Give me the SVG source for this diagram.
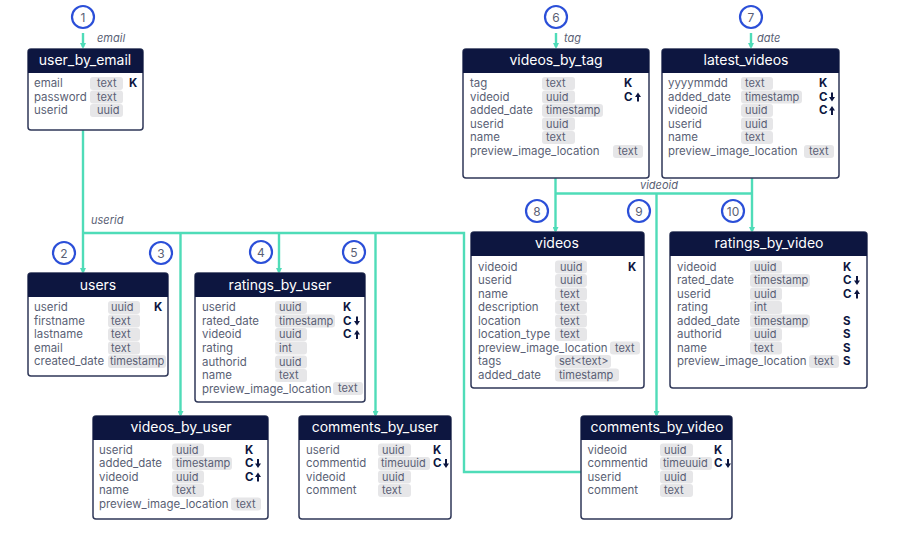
<svg xmlns="http://www.w3.org/2000/svg" width="900" height="534" viewBox="0 0 900 534">
<style>
text{font-family:"Inter","Noto Sans","Liberation Sans",sans-serif}
.box{fill:#fff;stroke:#2f3758;stroke-width:1.5}
.hd{fill:#0d1640}
.ti{fill:#fff;font-size:14px;text-anchor:middle}
.f{fill:#5a5f75;font-size:11.45px;transform:translateY(-0.5px)}
.t{fill:#5a5f75;font-size:11px;transform:translateY(-0.5px)}
.c{fill:#e6e6e8}
.k{fill:#0d1640;font-size:11.5px;font-weight:700;transform:translateY(-0.5px)}
.l{fill:#5a5f75;font-size:11px;font-style:italic}
.n{fill:#fff;stroke:#2b4fd8;stroke-width:2.2}
.nt{fill:#5a5f75;font-size:12px;text-anchor:middle}
.w{fill:none;stroke:#4fdcb8;stroke-width:2.4}
.a{fill:#0d1640}
</style>
<defs>
<marker id="ah" markerWidth="6" markerHeight="6" refX="4" refY="3" orient="auto" markerUnits="userSpaceOnUse"><path d="M0 0L6 3L0 6Z" fill="#4fdcb8"/></marker>
<path id="d" class="a" d="M-1-4.500H1V0H3L0 4.500L-3 0H-1Z"/>
<path id="u" class="a" d="M-1 4.500H1V0H3L0-4.500L-3 0H-1Z"/>
</defs>
<g id="connectors">
<path class="w" marker-end="url(#ah)" d="M83 33V47"/>
<path class="w" marker-end="url(#ah)" d="M556 33V47"/>
<path class="w" marker-end="url(#ah)" d="M751 33V47"/>
<path class="w" marker-end="url(#ah)" d="M83 130V272"/>
<path class="w" d="M83 233H464V472H581"/>
<path class="w" marker-end="url(#ah)" d="M180.500 233V415"/>
<path class="w" marker-end="url(#ah)" d="M279 233V272"/>
<path class="w" marker-end="url(#ah)" d="M375.500 233V415"/>
<path class="w" marker-end="url(#ah)" d="M555.500 178V231"/>
<path class="w" marker-end="url(#ah)" d="M752 178V231"/>
<path class="w" d="M555.500 193.500H752"/>
<path class="w" marker-end="url(#ah)" d="M656.500 193.500V415"/>
<text class="l" x="97" y="42">email</text>
<text class="l" x="91" y="224">userid</text>
<text class="l" x="564" y="42">tag</text>
<text class="l" x="757" y="42">date</text>
<text class="l" x="640" y="189">videoid</text>
</g>
<g id="n1"><circle class="n" cx="83" cy="17" r="11"/><text class="nt" x="83" y="21.500">1</text></g>
<g id="n2"><circle class="n" cx="64" cy="253" r="11"/><text class="nt" x="64" y="257.500">2</text></g>
<g id="n3"><circle class="n" cx="161" cy="253" r="11"/><text class="nt" x="161" y="257.500">3</text></g>
<g id="n4"><circle class="n" cx="261" cy="252" r="11"/><text class="nt" x="261" y="256.500">4</text></g>
<g id="n5"><circle class="n" cx="354" cy="252" r="11"/><text class="nt" x="354" y="256.500">5</text></g>
<g id="n6"><circle class="n" cx="556" cy="17" r="11"/><text class="nt" x="556" y="21.500">6</text></g>
<g id="n7"><circle class="n" cx="751" cy="17" r="11"/><text class="nt" x="751" y="21.500">7</text></g>
<g id="n8"><circle class="n" cx="537" cy="211" r="11"/><text class="nt" x="537" y="215.500">8</text></g>
<g id="n9"><circle class="n" cx="639" cy="211" r="11"/><text class="nt" x="639" y="215.500">9</text></g>
<g id="n10"><circle class="n" cx="733" cy="211" r="11"/><text class="nt" x="733" y="215.500">10</text></g>

<g id="user_by_email">
<rect class="box" x="28" y="49" width="115" height="81" rx="3"/><path class="hd" d="M28 73V52a3 3 0 0 1 3-3H140a3 3 0 0 1 3 3V73Z"/>
<text class="ti" x="85" y="65">user_by_email</text>
<rect class="c" x="90" y="77" width="33" height="13" rx="3"/><rect class="c" x="90" y="90.500" width="33" height="13" rx="3"/><rect class="c" x="90" y="104" width="33" height="13" rx="3"/>
<text class="f" x="34" y="87.500">email</text><text class="t" x="97" y="87.500">text</text><text class="k" x="129" y="87.500">K</text>
<text class="f" x="34" y="101">password</text><text class="t" x="97" y="101">text</text>
<text class="f" x="34" y="114.500">userid</text><text class="t" x="97" y="114.500">uuid</text>
</g>

<g id="videos_by_tag">
<rect class="box" x="463" y="49" width="186" height="129" rx="3"/><path class="hd" d="M463 73V52a3 3 0 0 1 3-3H646a3 3 0 0 1 3 3V73Z"/>
<text class="ti" x="556" y="65">videos_by_tag</text>
<rect class="c" x="542" y="77" width="33" height="13" rx="3"/><rect class="c" x="542" y="90.500" width="33" height="13" rx="3"/><rect class="c" x="542" y="104" width="61" height="13" rx="3"/><rect class="c" x="542" y="117.500" width="33" height="13" rx="3"/><rect class="c" x="542" y="131" width="33" height="13" rx="3"/><rect class="c" x="613" y="145" width="30" height="13" rx="3"/>
<text class="f" x="470" y="87.500">tag</text><text class="t" x="546" y="87.500">text</text><text class="k" x="624" y="87.500">K</text>
<text class="f" x="470" y="101">videoid</text><text class="t" x="546" y="101">uuid</text><text class="k" x="624" y="101">C</text><use href="#u" x="638" y="97"/>
<text class="f" x="470" y="114.500">added_date</text><text class="t" x="546" y="114.500">timestamp</text>
<text class="f" x="470" y="128">userid</text><text class="t" x="546" y="128">uuid</text>
<text class="f" x="470" y="141.500">name</text><text class="t" x="546" y="141.500">text</text>
<text class="f" x="470" y="155">preview_image_location</text><text class="t" x="618" y="155.500">text</text>
</g>

<g id="latest_videos">
<rect class="box" x="662" y="49" width="177" height="129" rx="3"/><path class="hd" d="M662 73V52a3 3 0 0 1 3-3H836a3 3 0 0 1 3 3V73Z"/>
<text class="ti" x="746" y="65">latest_videos</text>
<rect class="c" x="741" y="77" width="32" height="13" rx="3"/><rect class="c" x="741" y="90.500" width="61" height="13" rx="3"/><rect class="c" x="741" y="104" width="32" height="13" rx="3"/><rect class="c" x="741" y="117.500" width="32" height="13" rx="3"/><rect class="c" x="741" y="131" width="32" height="13" rx="3"/><rect class="c" x="804" y="145" width="30" height="13" rx="3"/>
<text class="f" x="668" y="87.500">yyyymmdd</text><text class="t" x="745" y="87.500">text</text><text class="k" x="819" y="87.500">K</text>
<text class="f" x="668" y="101">added_date</text><text class="t" x="745" y="101">timestamp</text><text class="k" x="819" y="101">C</text><use href="#d" x="832" y="97"/>
<text class="f" x="668" y="114.500">videoid</text><text class="t" x="745" y="114.500">uuid</text><text class="k" x="819" y="114.500">C</text><use href="#u" x="832" y="110.500"/>
<text class="f" x="668" y="128">userid</text><text class="t" x="745" y="128">uuid</text>
<text class="f" x="668" y="141.500">name</text><text class="t" x="745" y="141.500">text</text>
<text class="f" x="668" y="155">preview_image_location</text><text class="t" x="809" y="155.500">text</text>
</g>

<g id="users">
<rect class="box" x="28" y="273" width="140" height="103" rx="3"/><path class="hd" d="M28 297V276a3 3 0 0 1 3-3H165a3 3 0 0 1 3 3V297Z"/>
<text class="ti" x="98" y="290">users</text>
<rect class="c" x="108" y="301" width="32" height="13" rx="3"/><rect class="c" x="108" y="314.500" width="32" height="13" rx="3"/><rect class="c" x="108" y="328" width="32" height="13" rx="3"/><rect class="c" x="108" y="341.500" width="32" height="13" rx="3"/><rect class="c" x="108" y="355" width="58" height="13" rx="3"/>
<text class="f" x="34" y="311.500">userid</text><text class="t" x="111" y="311.500">uuid</text><text class="k" x="154" y="311.500">K</text>
<text class="f" x="34" y="325">firstname</text><text class="t" x="111" y="325">text</text>
<text class="f" x="34" y="338.500">lastname</text><text class="t" x="111" y="338.500">text</text>
<text class="f" x="34" y="352">email</text><text class="t" x="111" y="352">text</text>
<text class="f" x="34" y="365.500">created_date</text><text class="t" x="110" y="365.500">timestamp</text>
</g>

<g id="ratings_by_user">
<rect class="box" x="195" y="273" width="170" height="129" rx="3"/><path class="hd" d="M195 297V276a3 3 0 0 1 3-3H362a3 3 0 0 1 3 3V297Z"/>
<text class="ti" x="280" y="290">ratings_by_user</text>
<rect class="c" x="275" y="301" width="32" height="13" rx="3"/><rect class="c" x="275" y="314.500" width="60" height="13" rx="3"/><rect class="c" x="275" y="328" width="32" height="13" rx="3"/><rect class="c" x="275" y="341.500" width="32" height="13" rx="3"/><rect class="c" x="275" y="355.500" width="32" height="13" rx="3"/><rect class="c" x="275" y="369" width="32" height="13" rx="3"/><rect class="c" x="333" y="382" width="30" height="13" rx="3"/>
<text class="f" x="202" y="311.500">userid</text><text class="t" x="279" y="311.500">uuid</text><text class="k" x="343" y="311.500">K</text>
<text class="f" x="202" y="325">rated_date</text><text class="t" x="279" y="325">timestamp</text><text class="k" x="343" y="325">C</text><use href="#d" x="357" y="321"/>
<text class="f" x="202" y="338.500">videoid</text><text class="t" x="279" y="338.500">uuid</text><text class="k" x="343" y="338.500">C</text><use href="#u" x="357" y="334.500"/>
<text class="f" x="202" y="352">rating</text><text class="t" x="279" y="352">int</text>
<text class="f" x="202" y="366">authorid</text><text class="t" x="279" y="366">uuid</text>
<text class="f" x="202" y="379.500">name</text><text class="t" x="279" y="379.500">text</text>
<text class="f" x="202" y="393">preview_image_location</text><text class="t" x="338" y="392.500">text</text>
</g>

<g id="videos_by_user">
<rect class="box" x="93" y="416" width="175" height="103" rx="3"/><path class="hd" d="M93 440V419a3 3 0 0 1 3-3H265a3 3 0 0 1 3 3V440Z"/>
<text class="ti" x="181" y="432">videos_by_user</text>
<rect class="c" x="172" y="443.500" width="32" height="13" rx="3"/><rect class="c" x="172" y="457" width="60" height="13" rx="3"/><rect class="c" x="172" y="470.500" width="32" height="13" rx="3"/><rect class="c" x="172" y="484" width="32" height="13" rx="3"/><rect class="c" x="231" y="497.500" width="30" height="13" rx="3"/>
<text class="f" x="99" y="454">userid</text><text class="t" x="176" y="454">uuid</text><text class="k" x="245" y="454">K</text>
<text class="f" x="99" y="467.500">added_date</text><text class="t" x="176" y="467.500">timestamp</text><text class="k" x="245" y="467.500">C</text><use href="#d" x="258" y="463.500"/>
<text class="f" x="99" y="481">videoid</text><text class="t" x="176" y="481">uuid</text><text class="k" x="245" y="481">C</text><use href="#u" x="258" y="477"/>
<text class="f" x="99" y="494.500">name</text><text class="t" x="176" y="494.500">text</text>
<text class="f" x="99" y="508.500">preview_image_location</text><text class="t" x="236" y="508">text</text>
</g>

<g id="comments_by_user">
<rect class="box" x="299" y="416" width="152" height="103" rx="3"/><path class="hd" d="M299 440V419a3 3 0 0 1 3-3H448a3 3 0 0 1 3 3V440Z"/>
<text class="ti" x="375" y="432">comments_by_user</text>
<rect class="c" x="378" y="443.500" width="33" height="13" rx="3"/><rect class="c" x="378" y="457" width="52" height="13" rx="3"/><rect class="c" x="378" y="470.500" width="33" height="13" rx="3"/><rect class="c" x="378" y="484" width="33" height="13" rx="3"/>
<text class="f" x="306" y="454">userid</text><text class="t" x="382" y="454">uuid</text><text class="k" x="433" y="454">K</text>
<text class="f" x="306" y="467.500">commentid</text><text class="t" x="381" y="467.500">timeuuid</text><text class="k" x="433" y="467.500">C</text><use href="#d" x="446" y="463.500"/>
<text class="f" x="306" y="481">videoid</text><text class="t" x="382" y="481">uuid</text>
<text class="f" x="306" y="494.500">comment</text><text class="t" x="382" y="494.500">text</text>
</g>

<g id="videos">
<rect class="box" x="471" y="232" width="173" height="156" rx="3"/><path class="hd" d="M471 256V235a3 3 0 0 1 3-3H641a3 3 0 0 1 3 3V256Z"/>
<text class="ti" x="557" y="248">videos</text>
<rect class="c" x="555" y="260.500" width="32" height="13" rx="3"/><rect class="c" x="555" y="274" width="32" height="13" rx="3"/><rect class="c" x="555" y="287.500" width="32" height="13" rx="3"/><rect class="c" x="555" y="301" width="32" height="13" rx="3"/><rect class="c" x="555" y="314.500" width="32" height="13" rx="3"/><rect class="c" x="555" y="328" width="32" height="13" rx="3"/><rect class="c" x="610" y="341.500" width="30" height="13" rx="3"/><rect class="c" x="555" y="355" width="56" height="13" rx="3"/><rect class="c" x="555" y="368.500" width="64" height="13" rx="3"/>
<text class="f" x="478" y="271">videoid</text><text class="t" x="560" y="271">uuid</text><text class="k" x="628" y="271">K</text>
<text class="f" x="478" y="284.500">userid</text><text class="t" x="560" y="284.500">uuid</text>
<text class="f" x="478" y="298">name</text><text class="t" x="560" y="298">text</text>
<text class="f" x="478" y="311.500">description</text><text class="t" x="560" y="311.500">text</text>
<text class="f" x="478" y="325">location</text><text class="t" x="560" y="325">text</text>
<text class="f" x="478" y="338.500">location_type</text><text class="t" x="560" y="338.500">text</text>
<text class="f" x="478" y="352">preview_image_location</text><text class="t" x="615" y="352">text</text>
<text class="f" x="478" y="365.500">tags</text><text class="t" x="559" y="365.500">set&lt;text&gt;</text>
<text class="f" x="478" y="379">added_date</text><text class="t" x="559" y="379">timestamp</text>
</g>

<g id="ratings_by_video">
<rect class="box" x="670" y="232" width="197" height="156" rx="3"/><path class="hd" d="M670 256V235a3 3 0 0 1 3-3H864a3 3 0 0 1 3 3V256Z"/>
<text class="ti" x="769" y="248">ratings_by_video</text>
<rect class="c" x="750" y="260.500" width="32" height="13" rx="3"/><rect class="c" x="750" y="274" width="60" height="13" rx="3"/><rect class="c" x="750" y="287.500" width="32" height="13" rx="3"/><rect class="c" x="750" y="301" width="32" height="13" rx="3"/><rect class="c" x="750" y="314.500" width="60" height="13" rx="3"/><rect class="c" x="750" y="328" width="32" height="13" rx="3"/><rect class="c" x="750" y="341.500" width="32" height="13" rx="3"/><rect class="c" x="809" y="355" width="30" height="13" rx="3"/>
<text class="f" x="677" y="271">videoid</text><text class="t" x="754" y="271">uuid</text><text class="k" x="843" y="271">K</text>
<text class="f" x="677" y="284.500">rated_date</text><text class="t" x="754" y="284.500">timestamp</text><text class="k" x="843" y="284.500">C</text><use href="#d" x="857" y="280.500"/>
<text class="f" x="677" y="298">userid</text><text class="t" x="754" y="298">uuid</text><text class="k" x="843" y="298">C</text><use href="#u" x="857" y="294"/>
<text class="f" x="677" y="311.500">rating</text><text class="t" x="754" y="311.500">int</text>
<text class="f" x="677" y="325">added_date</text><text class="t" x="754" y="325">timestamp</text><text class="k" x="843" y="325">S</text>
<text class="f" x="677" y="338.500">authorid</text><text class="t" x="754" y="338.500">uuid</text><text class="k" x="843" y="338.500">S</text>
<text class="f" x="677" y="352">name</text><text class="t" x="754" y="352">text</text><text class="k" x="843" y="352">S</text>
<text class="f" x="677" y="365.500">preview_image_location</text><text class="t" x="814" y="365">text</text><text class="k" x="843" y="365.500">S</text>
</g>

<g id="comments_by_video">
<rect class="box" x="581" y="416" width="151" height="103" rx="3"/><path class="hd" d="M581 440V419a3 3 0 0 1 3-3H729a3 3 0 0 1 3 3V440Z"/>
<text class="ti" x="657" y="432">comments_by_video</text>
<rect class="c" x="660" y="443.500" width="33" height="13" rx="3"/><rect class="c" x="660" y="457" width="52" height="13" rx="3"/><rect class="c" x="660" y="470.500" width="33" height="13" rx="3"/><rect class="c" x="660" y="484" width="33" height="13" rx="3"/>
<text class="f" x="587.500" y="454">videoid</text><text class="t" x="664" y="454">uuid</text><text class="k" x="714" y="454">K</text>
<text class="f" x="587.500" y="467.500">commentid</text><text class="t" x="663" y="467.500">timeuuid</text><text class="k" x="714" y="467.500">C</text><use href="#d" x="728" y="463.500"/>
<text class="f" x="587.500" y="481">userid</text><text class="t" x="664" y="481">uuid</text>
<text class="f" x="587.500" y="494.500">comment</text><text class="t" x="664" y="494.500">text</text>
</g>
</svg>
